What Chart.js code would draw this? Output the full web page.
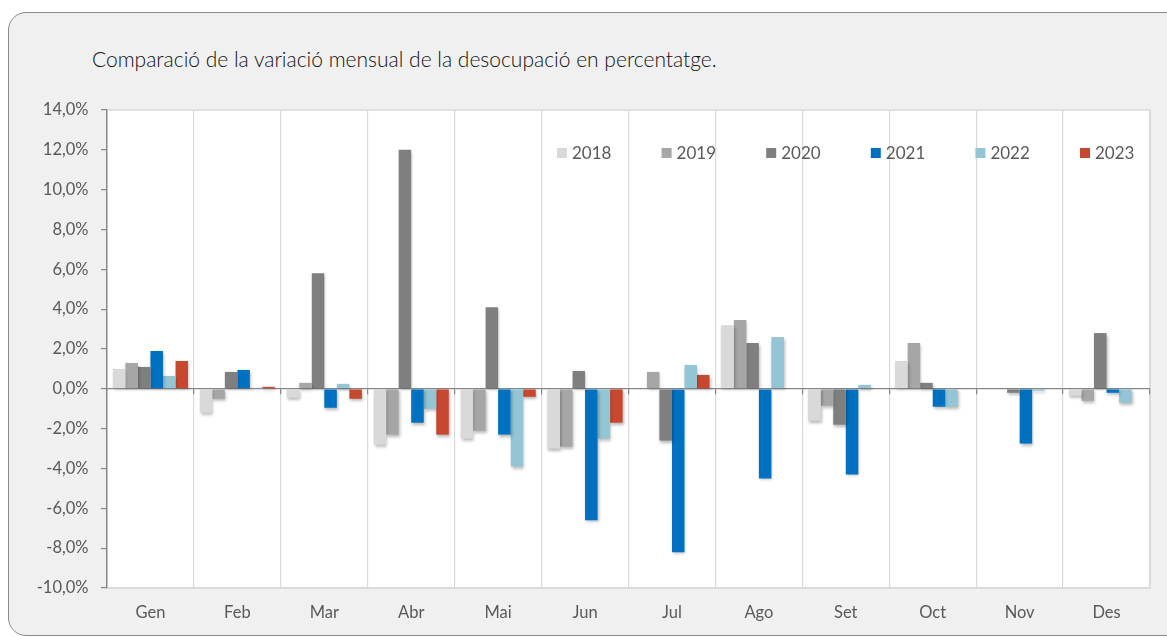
<!DOCTYPE html>
<html lang="ca">
<head>
<meta charset="UTF-8">
<title>Variació mensual de la desocupació</title>
<script src="https://cdn.jsdelivr.net/npm/chart.js@4.4.0/dist/chart.umd.min.js"></script>
<style>
  html, body { margin: 0; padding: 0; background: #fff; width: 1167px; height: 637px; overflow: hidden; }
  .frame {
    position: absolute; left: 8px; top: 12px; width: 1200px; height: 622px;
    border: 1.5px solid #8a8a8a; border-radius: 18px; background: #f0f0f0;
  }
  .title {
    position: absolute; left: 92px; top: 46px; margin: 0;
    font-family: Lato, sans-serif; font-weight: 300; font-size: 21px; color: #111;
    white-space: nowrap;
  }
  #chart { position: absolute; left: 0; top: 0; }
</style>
</head>
<body>
<div class="frame"></div>
<h1 class="title">Comparació de la variació mensual de la desocupació en percentatge.</h1>
<canvas id="chart" width="1167" height="637"></canvas>

<script>
const months = ['Gen', 'Feb', 'Mar', 'Abr', 'Mai', 'Jun', 'Jul', 'Ago', 'Set', 'Oct', 'Nov', 'Des'];
const years = ['2018', '2019', '2020', '2021', '2022', '2023'];

// variació mensual (%), llegida del gràfic
const v2018 = [1.0, -1.2, -0.45, -2.8, -2.5, -3.0, 0, 3.2, -1.6, 1.4, 0, -0.35];
const v2019 = [1.3, -0.5, 0.3, -2.3, -2.1, -2.9, 0.85, 3.45, -0.85, 2.3, 0, -0.6];
const v2020 = [1.1, 0.85, 5.8, 12.0, 4.1, 0.9, -2.6, 2.3, -1.8, 0.3, -0.2, 2.8];
const v2021 = [1.9, 0.95, -0.95, -1.7, -2.3, -6.6, -8.2, -4.5, -4.3, -0.9, -2.75, -0.2];
const v2022 = [0.65, 0.05, 0.25, -1.0, -3.9, -2.5, 1.2, 2.6, 0.2, -0.9, -0.1, -0.7];
const v2023 = [1.4, 0.1, -0.5, -2.3, -0.4, -1.7, 0.7, null, null, null, null, null];

const yMin = -10, yMax = 14, yStep = 2;

const colors = ['#d9d9d9', '#a6a6a6', '#7f7f7f', '#0070c0', '#93c5d4', '#c8472f'];
const series = [v2018, v2019, v2020, v2021, v2022, v2023];

const fmt = v => v.toFixed(1).replace('.', ',') + '%';
const FONT = 'Lato, sans-serif';
const TXT = '#595959';

// fons blanc i vora de l'àrea del gràfic
const plotBg = {
    id: 'plotBg',
    beforeDraw(chart) {
        const { ctx, chartArea: a } = chart;
        ctx.save();
        ctx.fillStyle = '#ffffff';
        ctx.fillRect(a.left, a.top, a.width, a.height);
        ctx.strokeStyle = '#d9d9d9';
        ctx.lineWidth = 1.5;
        ctx.strokeRect(a.left, a.top, a.width, a.height);
        ctx.restore();
    }
};

// ombra suau sota les barres
const barShadow = {
    id: 'barShadow',
    beforeDatasetsDraw(chart) {
        const ctx = chart.ctx;
        ctx.save();
        ctx.shadowColor = 'rgba(0,0,0,0.28)';
        ctx.shadowBlur = 3;
        ctx.shadowOffsetX = 1;
        ctx.shadowOffsetY = 2;
    },
    afterDatasetsDraw(chart) {
        chart.ctx.restore();
    }
};

// llegenda dins l'àrea del gràfic, a dalt a la dreta
const innerLegend = {
    id: 'innerLegend',
    afterDraw(chart) {
        const { ctx, chartArea: a } = chart;
        const startX = a.left + 450, gap = 104.6, y = 153;
        ctx.save();
        ctx.font = '17px ' + FONT;
        ctx.textBaseline = 'middle';
        chart.data.datasets.forEach((ds, i) => {
            const x = startX + i * gap;
            ctx.fillStyle = ds.backgroundColor;
            ctx.fillRect(x, y - 5, 10, 10);
            ctx.fillStyle = TXT;
            ctx.fillText(ds.label, x + 15, y + 1);
        });
        ctx.restore();
    }
};

new Chart(document.getElementById('chart'), {
    type: 'bar',
    data: {
        labels: months,
        datasets: years.map((y, i) => ({
            label: y,
            data: series[i],
            backgroundColor: colors[i],
            xAxisID: 'x',
            categoryPercentage: 0.865,
            barPercentage: 1.0
        }))
    },
    options: {
        responsive: false,
        animation: false,
        layout: { padding: { top: 110, right: 17, left: 0, bottom: 0 } },
        plugins: {
            legend: { display: false },
            title: { display: false },
            tooltip: { enabled: false }
        },
        scales: {
            x: {
                position: 'bottom',
                offset: true,
                grid: { offset: true, color: '#d9d9d9', lineWidth: 1.2, drawTicks: false },
                border: { color: '#d9d9d9', width: 1.5 },
                ticks: { color: TXT, font: { family: FONT, size: 16.5 }, padding: 15 },
                afterFit(s) { s.height = 49; }
            },
            x2: {
                type: 'category',
                axis: 'x',
                labels: months,
                position: { y: 0 },
                offset: true,
                grid: { offset: true, drawOnChartArea: false, drawTicks: true, tickLength: 5, color: '#868686', lineWidth: 1.2 },
                border: { color: '#868686', width: 1.3 },
                ticks: { display: false }
            },
            y: {
                min: yMin,
                max: yMax,
                ticks: {
                    stepSize: yStep,
                    color: TXT,
                    font: { family: FONT, size: 16.5 },
                    padding: 12.5,
                    callback: v => fmt(v)
                },
                grid: { drawOnChartArea: false, drawTicks: true, tickLength: 6, color: '#868686', lineWidth: 1.2 },
                border: { color: '#868686', width: 1.3 },
                afterFit(s) { s.width = 107; }
            }
        }
    },
    plugins: [plotBg, barShadow, innerLegend]
});
</script>
</body>
</html>
